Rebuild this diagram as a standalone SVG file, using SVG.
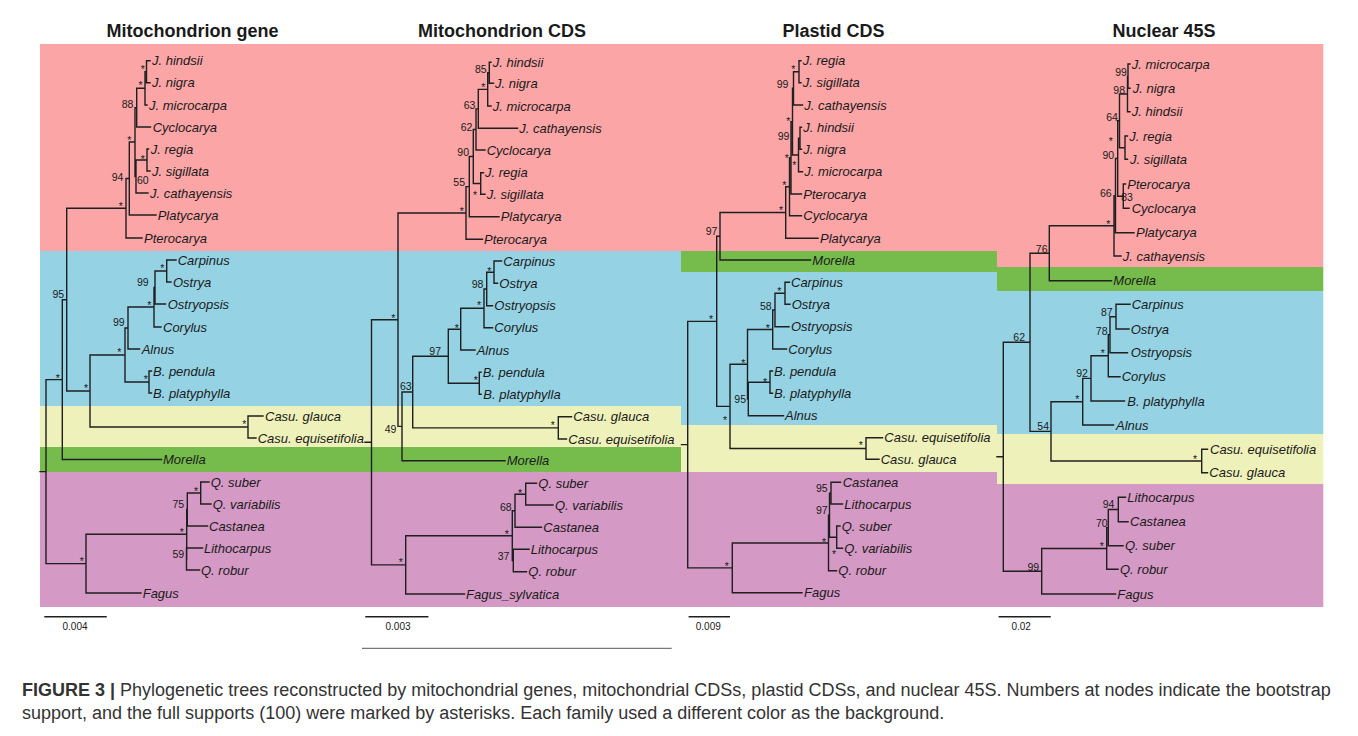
<svg xmlns="http://www.w3.org/2000/svg" width="1358" height="736" viewBox="0 0 1358 736">
<style>
text{font-family:'Liberation Sans',Arial,sans-serif;fill:#1a1a1a}
.lf{font-style:italic;font-size:13px}
.bs{font-size:10.5px;text-anchor:middle}
.ti{font-weight:bold;font-size:18px;text-anchor:middle}
.sc{font-size:10px;text-anchor:middle}
.cap{font-size:18px;fill:#333}
.br{fill:none;stroke:#1f1f1f;stroke-width:1.4;stroke-linecap:square}
.pk{fill:#fba5a6}.bl{fill:#95d3e4}.ye{fill:#eef1b9}.gr{fill:#75bc4c}.pu{fill:#d499c4}
</style>
<rect width="1358" height="736" fill="#fff"/>
<g id="backgrounds">
<rect class="pk" x="40" y="44" width="641" height="207"/>
<rect class="bl" x="40" y="251" width="641" height="155"/>
<rect class="ye" x="40" y="406" width="641" height="41"/>
<rect class="gr" x="40" y="447" width="641" height="25"/>
<rect class="pu" x="40" y="472" width="641" height="135"/>
<rect class="pk" x="681" y="44" width="316" height="207"/>
<rect class="gr" x="681" y="251" width="316" height="21"/>
<rect class="bl" x="681" y="272" width="316" height="153"/>
<rect class="ye" x="681" y="425" width="316" height="47"/>
<rect class="pu" x="681" y="472" width="316" height="135"/>
<rect class="pk" x="997" y="44" width="326.3" height="223"/>
<rect class="gr" x="997" y="267" width="326.3" height="24"/>
<rect class="bl" x="997" y="291" width="326.3" height="143"/>
<rect class="ye" x="997" y="434" width="326.3" height="50"/>
<rect class="pu" x="997" y="484" width="326.3" height="123"/>
</g>
<g id="titles">
<text class="ti" x="192.5" y="37">Mitochondrion gene</text>
<text class="ti" x="502" y="37">Mitochondrion CDS</text>
<text class="ti" x="833.5" y="37">Plastid CDS</text>
<text class="ti" x="1164" y="37">Nuclear 45S</text>
</g>
<g id="connectors">
<path id="tree1" class="br" d="M146.5 60.7V82.7M146.5 60.7H150M146.5 82.7H150M145 71.7V105M145 71.7H146.5M145 105H147M136.7 88.3V127M136.7 88.3H145M136.7 127H150.5M147 149V171M147 149H148.5M147 171H150M136 160V193M136 160H147M136 193H148M135 107.7V176.5M135 107.7H136.7M135 176.5H136M129.3 142V215M129.3 142H135M129.3 215H156M126 178.5V238M126 178.5H129.3M126 238H142M166.7 260V282M166.7 260H176M166.7 282H171M155 271V304M155 271H166.7M155 304H165.5M154 287.5V327M154 287.5H155M154 327H161M128 307V349M128 307H154M128 349H139.5M149 371V393M149 371H151.5M149 393H151.5M125 328V382M125 328H128M125 382H149M248 416V438M248 416H263M248 438H256M90 355V427M90 355H125M90 427H248M66.7 208.3V391M66.7 208.3H126M66.7 391H90M62.3 299.7V459.5M62.3 299.7H66.7M62.3 459.5H161.5M200.7 482V504M200.7 482H209M200.7 504H211M187.3 493V526M187.3 493H200.7M187.3 526H207.5M186.5 548V570M186.5 548H202.5M186.5 570H199.5M186.7 509.5V559M186.7 509.5H187.3M86 534.3V593M86 534.3H186.7M86 593H141M46 379.6V563.6M46 379.6H62.3M46 563.6H86M40 471.6H46"/>
<path id="tree2" class="br" d="M489.3 62.3V83.3M489.3 62.3H491M489.3 83.3H493.5M487.7 72.8V106M487.7 72.8H489.3M487.7 106H491M478.3 89.4V128.3M478.3 89.4H487.7M478.3 128.3H517.5M476 108.9V150M476 108.9H478.3M476 150H485M480.7 172.7V194.3M480.7 172.7H483.5M480.7 194.3H485M473.3 129.5V183.5M473.3 129.5H476M473.3 183.5H480.7M469.3 156.5V216.7M469.3 156.5H473.3M469.3 216.7H499M466 186.6V239.3M466 186.6H469.3M466 239.3H482.5M494 261V283.3M494 261H501.5M494 283.3H497.5M486.7 272.2V305.7M486.7 272.2H494M486.7 305.7H492.5M484 289V327.7M484 289H486.7M484 327.7H492.5M460.7 308.3V350M460.7 308.3H484M460.7 350H475M479.3 372.3V394.3M479.3 372.3H481M479.3 394.3H481M448.3 329.2V383.3M448.3 329.2H460.7M448.3 383.3H479.3M558.3 416.7V439M558.3 416.7H571.5M558.3 439H566.5M412.7 356.2V427.9M412.7 356.2H448.3M412.7 427.9H558.3M402 392V460.7M402 392H412.7M402 460.7H505M398 213V426.4M398 213H466M398 426.4H402M525.7 483.3V505M525.7 483.3H536.5M525.7 505H553M515 494.2V527.3M515 494.2H525.7M515 527.3H541.5M513.3 549.3V571.7M513.3 549.3H529M513.3 571.7H526.5M512.3 510.8V560.5M512.3 510.8H515M405.7 535.7V594M405.7 535.7H512.3M405.7 594H464.5M371.5 319.7V564.9M371.5 319.7H398M371.5 564.9H405.7M365 442.3H371.5"/>
<path id="tree3" class="br" d="M799 60.7V82.7M799 60.7H801M799 82.7H801M793.5 71.7V105M793.5 71.7H799M793.5 105H802.5M800 127.3V149.3M800 127.3H801.5M800 149.3H801.5M798.5 138.3V171.7M798.5 138.3H800M798.5 171.7H802.5M792.5 88.3V155M792.5 88.3H793.5M792.5 155H798.5M791 121.7V194M791 121.7H792.5M791 194H801.5M789.5 157.8V215.7M789.5 157.8H791M789.5 215.7H801.5M785.7 186.8V238.3M785.7 186.8H789.5M785.7 238.3H818M720 212.5V260M720 212.5H785.7M720 260H810.5M785 282.3V304.3M785 282.3H789.5M785 304.3H790M775 293.3V326.7M775 293.3H785M775 326.7H789M772.7 310V349M772.7 310H775M772.7 349H786.5M770 371V393.3M770 371H772.5M770 393.3H772.5M748.3 382.2V415.7M748.3 382.2H770M748.3 415.7H783.5M747.5 329.5V399M747.5 329.5H772.7M747.5 399H748.3M866 437.7V459.3M866 437.7H882.5M866 459.3H879M730 364.3V448.5M730 364.3H747.5M730 448.5H866M716.7 236.3V406.4M716.7 236.3H720M716.7 406.4H730M831 482.3V504M831 482.3H840.5M831 504H842.5M836.7 526V548.3M836.7 526H840M836.7 548.3H842.5M829.5 493.2V537.2M829.5 493.2H831M829.5 537.2H836.7M828.5 515.2V570.7M828.5 515.2H829.5M828.5 570.7H836.5M732.3 543V592.7M732.3 543H828.5M732.3 592.7H802M687.7 321.4V567.9M687.7 321.4H716.7M687.7 567.9H732.3M681.5 444.6H687.7"/>
<path id="tree4" class="br" d="M1128 64V88.3M1128 64H1130M1128 88.3H1130M1127.5 76.2V111.7M1127.5 76.2H1128M1127.5 111.7H1130M1125 136V159.3M1125 136H1127.5M1125 159.3H1127.5M1119.5 94V147.7M1119.5 94H1127.5M1119.5 147.7H1125M1123.3 184V208.3M1123.3 184H1125.5M1123.3 208.3H1129M1117.7 120.8V196.2M1117.7 120.8H1119.5M1117.7 196.2H1123.3M1115.5 158.5V232.7M1115.5 158.5H1117.7M1115.5 232.7H1134M1114 195.6V256M1114 195.6H1115.5M1114 256H1121M1049.3 225.8V280.7M1049.3 225.8H1114M1049.3 280.7H1111.5M1116 304.3V329M1116 304.3H1130M1116 329H1129M1110 316.7V352.7M1110 316.7H1116M1110 352.7H1127.5M1108.3 334.7V376.7M1108.3 334.7H1110M1108.3 376.7H1120M1091 355.7V401M1091 355.7H1108.3M1091 401H1124.5M1082.7 378.4V425M1082.7 378.4H1091M1082.7 425H1113.5M1201.7 449.3V472.7M1201.7 449.3H1207.5M1201.7 472.7H1207.5M1051 401.7V461M1051 401.7H1082.7M1051 461H1201.7M1030 253.2V431.4M1030 253.2H1049.3M1030 431.4H1051M1118.3 497.3V521.7M1118.3 497.3H1125.5M1118.3 521.7H1128M1108.3 509.5V545.7M1108.3 509.5H1118.3M1108.3 545.7H1123M1106.7 527.6V569.3M1106.7 527.6H1108.3M1106.7 569.3H1118M1041.7 548.5V594M1041.7 548.5H1106.7M1041.7 594H1115.5M1003.3 342.3V571.3M1003.3 342.3H1030M1003.3 571.3H1041.7M997 456.8H1003.3"/>
<path id="scalebars" class="br" d="M45 616.7H106M366 616.7H427.7M689.3 616.7H729.3M999.3 616.7H1050"/>
<path id="rule" d="M362 648.3H671.7" stroke="#555" stroke-width="1" fill="none"/>
</g>
<g id="panel1">
<g id="p1-leaves">
<text class="lf" x="152" y="65.2">J. hindsii</text>
<text class="lf" x="152" y="87.2">J. nigra</text>
<text class="lf" x="149" y="109.5">J. microcarpa</text>
<text class="lf" x="152.7" y="131.5">Cyclocarya</text>
<text class="lf" x="150.7" y="153.5">J. regia</text>
<text class="lf" x="152" y="175.5">J. sigillata</text>
<text class="lf" x="150" y="197.5">J. cathayensis</text>
<text class="lf" x="157.7" y="219.5">Platycarya</text>
<text class="lf" x="144" y="242.5">Pterocarya</text>
<text class="lf" x="177.7" y="264.5">Carpinus</text>
<text class="lf" x="173" y="286.5">Ostrya</text>
<text class="lf" x="167.7" y="308.5">Ostryopsis</text>
<text class="lf" x="163" y="331.5">Corylus</text>
<text class="lf" x="141.7" y="353.5">Alnus</text>
<text class="lf" x="153" y="375.5">B. pendula</text>
<text class="lf" x="153" y="397.5">B. platyphylla</text>
<text class="lf" x="265" y="420.5">Casu. glauca</text>
<text class="lf" x="257.7" y="442.5">Casu. equisetifolia</text>
<text class="lf" x="163" y="464">Morella</text>
<text class="lf" x="210.7" y="486.5">Q. suber</text>
<text class="lf" x="212.7" y="508.5">Q. variabilis</text>
<text class="lf" x="209" y="530.5">Castanea</text>
<text class="lf" x="204" y="552.5">Lithocarpus</text>
<text class="lf" x="201" y="574.5">Q. robur</text>
<text class="lf" x="142.7" y="597.5">Fagus</text>
</g>
<g id="p1-support">
<text class="bs" x="142.7" y="72.5">*</text>
<text class="bs" x="140.5" y="89.3">*</text>
<text class="bs" x="142.7" y="162.7">*</text>
<text class="bs" x="129.3" y="143.5">*</text>
<text class="bs" x="120.7" y="210.3">*</text>
<text class="bs" x="162.3" y="272">*</text>
<text class="bs" x="149.3" y="308.7">*</text>
<text class="bs" x="119.3" y="356">*</text>
<text class="bs" x="145.7" y="383.3">*</text>
<text class="bs" x="86" y="392">*</text>
<text class="bs" x="244.3" y="428.3">*</text>
<text class="bs" x="57.7" y="381.7">*</text>
<text class="bs" x="196" y="495">*</text>
<text class="bs" x="181.7" y="536">*</text>
<text class="bs" x="81.7" y="565">*</text>
<text class="bs" x="127.5" y="108">88</text>
<text class="bs" x="142.8" y="184">60</text>
<text class="bs" x="117.5" y="180.7">94</text>
<text class="bs" x="58.3" y="297.7">95</text>
<text class="bs" x="142.8" y="286">99</text>
<text class="bs" x="118.8" y="326.3">99</text>
<text class="bs" x="178.3" y="507.7">75</text>
<text class="bs" x="178.3" y="557.7">59</text>
</g>
<text class="sc" x="75" y="630">0.004</text>
</g>
<g id="panel2">
<g id="p2-leaves">
<text class="lf" x="492.7" y="66.8">J. hindsii</text>
<text class="lf" x="495" y="87.8">J. nigra</text>
<text class="lf" x="492.7" y="110.5">J. microcarpa</text>
<text class="lf" x="519.3" y="132.8">J. cathayensis</text>
<text class="lf" x="486.7" y="154.5">Cyclocarya</text>
<text class="lf" x="485" y="177.2">J. regia</text>
<text class="lf" x="486.7" y="198.8">J. sigillata</text>
<text class="lf" x="500.7" y="221.2">Platycarya</text>
<text class="lf" x="484" y="243.8">Pterocarya</text>
<text class="lf" x="503.3" y="265.5">Carpinus</text>
<text class="lf" x="499.3" y="287.8">Ostrya</text>
<text class="lf" x="494.3" y="310.2">Ostryopsis</text>
<text class="lf" x="494.3" y="332.2">Corylus</text>
<text class="lf" x="476.7" y="354.5">Alnus</text>
<text class="lf" x="482.7" y="376.8">B. pendula</text>
<text class="lf" x="483.3" y="398.8">B. platyphylla</text>
<text class="lf" x="573.3" y="421.2">Casu. glauca</text>
<text class="lf" x="568.3" y="443.5">Casu. equisetifolia</text>
<text class="lf" x="506.7" y="465.2">Morella</text>
<text class="lf" x="538.3" y="487.8">Q. suber</text>
<text class="lf" x="555" y="509.5">Q. variabilis</text>
<text class="lf" x="543.3" y="531.8">Castanea</text>
<text class="lf" x="530.7" y="553.8">Lithocarpus</text>
<text class="lf" x="528.3" y="576.2">Q. robur</text>
<text class="lf" x="466" y="598.5">Fagus_sylvatica</text>
</g>
<g id="p2-support">
<text class="bs" x="480.8" y="72.7">85</text>
<text class="bs" x="469.5" y="108.5">63</text>
<text class="bs" x="466.5" y="130.7">62</text>
<text class="bs" x="463.2" y="156.3">90</text>
<text class="bs" x="459.2" y="186.3">55</text>
<text class="bs" x="477.5" y="288.2">98</text>
<text class="bs" x="435.2" y="355.2">97</text>
<text class="bs" x="405.8" y="390.2">63</text>
<text class="bs" x="390.5" y="433">49</text>
<text class="bs" x="505.8" y="510.7">68</text>
<text class="bs" x="503.5" y="560.2">37</text>
<text class="bs" x="483.3" y="91">*</text>
<text class="bs" x="475" y="198.7">*</text>
<text class="bs" x="461.7" y="215">*</text>
<text class="bs" x="489.3" y="275.3">*</text>
<text class="bs" x="479" y="309.3">*</text>
<text class="bs" x="456.7" y="332">*</text>
<text class="bs" x="475.7" y="383.7">*</text>
<text class="bs" x="552.7" y="428.7">*</text>
<text class="bs" x="393.3" y="322">*</text>
<text class="bs" x="520" y="496.7">*</text>
<text class="bs" x="506.7" y="537.7">*</text>
<text class="bs" x="400.7" y="566">*</text>
</g>
<text class="sc" x="398" y="630">0.003</text>
</g>
<g id="panel3">
<g id="p3-leaves">
<text class="lf" x="802.7" y="65.2">J. regia</text>
<text class="lf" x="802.7" y="87.2">J. sigillata</text>
<text class="lf" x="804.3" y="109.5">J. cathayensis</text>
<text class="lf" x="803.3" y="131.8">J. hindsii</text>
<text class="lf" x="803.3" y="153.8">J. nigra</text>
<text class="lf" x="804.3" y="176.2">J. microcarpa</text>
<text class="lf" x="803.3" y="198.5">Pterocarya</text>
<text class="lf" x="803.3" y="220.2">Cyclocarya</text>
<text class="lf" x="820" y="242.8">Platycarya</text>
<text class="lf" x="812.3" y="264.5">Morella</text>
<text class="lf" x="791" y="286.8">Carpinus</text>
<text class="lf" x="791.7" y="308.8">Ostrya</text>
<text class="lf" x="791" y="331.2">Ostryopsis</text>
<text class="lf" x="788.3" y="353.5">Corylus</text>
<text class="lf" x="774" y="375.5">B. pendula</text>
<text class="lf" x="774" y="397.8">B. platyphylla</text>
<text class="lf" x="785" y="420.2">Alnus</text>
<text class="lf" x="884.3" y="442.2">Casu. equisetifolia</text>
<text class="lf" x="880.7" y="463.8">Casu. glauca</text>
<text class="lf" x="842.7" y="486.8">Castanea</text>
<text class="lf" x="844.3" y="508.5">Lithocarpus</text>
<text class="lf" x="841.7" y="530.5">Q. suber</text>
<text class="lf" x="844.3" y="552.8">Q. variabilis</text>
<text class="lf" x="838.3" y="575.2">Q. robur</text>
<text class="lf" x="804" y="597.2">Fagus</text>
</g>
<g id="p3-support">
<text class="bs" x="782.5" y="88">99</text>
<text class="bs" x="783.5" y="139.8">99</text>
<text class="bs" x="711.5" y="235.2">97</text>
<text class="bs" x="765.8" y="310.2">58</text>
<text class="bs" x="740.2" y="402.7">95</text>
<text class="bs" x="821.8" y="491.8">95</text>
<text class="bs" x="821.8" y="514">97</text>
<text class="bs" x="793.3" y="72.7">*</text>
<text class="bs" x="788.3" y="125">*</text>
<text class="bs" x="794.3" y="169.3">*</text>
<text class="bs" x="786.7" y="161.7">*</text>
<text class="bs" x="784.3" y="188.7">*</text>
<text class="bs" x="781" y="214.3">*</text>
<text class="bs" x="779.3" y="295.3">*</text>
<text class="bs" x="767.7" y="331.7">*</text>
<text class="bs" x="765" y="386">*</text>
<text class="bs" x="743.3" y="366.7">*</text>
<text class="bs" x="725" y="423.7">*</text>
<text class="bs" x="860.7" y="449.3">*</text>
<text class="bs" x="711" y="323.3">*</text>
<text class="bs" x="824" y="546">*</text>
<text class="bs" x="834" y="557.7">*</text>
<text class="bs" x="726.7" y="570">*</text>
</g>
<text class="sc" x="708.3" y="630">0.009</text>
</g>
<g id="panel4">
<g id="p4-leaves">
<text class="lf" x="1131.7" y="68.5">J. microcarpa</text>
<text class="lf" x="1132.7" y="92.8">J. nigra</text>
<text class="lf" x="1131.7" y="116.2">J. hindsii</text>
<text class="lf" x="1129.3" y="140.5">J. regia</text>
<text class="lf" x="1130" y="163.8">J. sigillata</text>
<text class="lf" x="1127.3" y="188.5">Pterocarya</text>
<text class="lf" x="1131.7" y="212.8">Cyclocarya</text>
<text class="lf" x="1136" y="237.2">Platycarya</text>
<text class="lf" x="1122.7" y="260.5">J. cathayensis</text>
<text class="lf" x="1113.3" y="285.2">Morella</text>
<text class="lf" x="1131.7" y="308.8">Carpinus</text>
<text class="lf" x="1130.7" y="333.5">Ostrya</text>
<text class="lf" x="1130.7" y="357.2">Ostryopsis</text>
<text class="lf" x="1121.7" y="381.2">Corylus</text>
<text class="lf" x="1127.3" y="405.5">B. platyphylla</text>
<text class="lf" x="1116" y="429.5">Alnus</text>
<text class="lf" x="1210" y="453.8">Casu. equisetifolia</text>
<text class="lf" x="1209.3" y="477.2">Casu. glauca</text>
<text class="lf" x="1127.3" y="501.8">Lithocarpus</text>
<text class="lf" x="1130" y="526.2">Castanea</text>
<text class="lf" x="1125" y="550.2">Q. suber</text>
<text class="lf" x="1120" y="573.8">Q. robur</text>
<text class="lf" x="1117.3" y="598.5">Fagus</text>
</g>
<g id="p4-support">
<text class="bs" x="1121" y="76">99</text>
<text class="bs" x="1119.2" y="93.8">98</text>
<text class="bs" x="1112" y="121">64</text>
<text class="bs" x="1108.3" y="158.5">90</text>
<text class="bs" x="1105.8" y="196.5">66</text>
<text class="bs" x="1127" y="200.5">83</text>
<text class="bs" x="1041.7" y="252.5">76</text>
<text class="bs" x="1106.8" y="316.3">87</text>
<text class="bs" x="1101.7" y="334.8">78</text>
<text class="bs" x="1082" y="377.3">92</text>
<text class="bs" x="1043.2" y="430.3">54</text>
<text class="bs" x="1019.2" y="341">62</text>
<text class="bs" x="1108.5" y="508">94</text>
<text class="bs" x="1101.8" y="527">70</text>
<text class="bs" x="1033.3" y="570.5">99</text>
<text class="bs" x="1110.7" y="145">*</text>
<text class="bs" x="1108.3" y="227.7">*</text>
<text class="bs" x="1102.7" y="356.7">*</text>
<text class="bs" x="1077.3" y="402.7">*</text>
<text class="bs" x="1195" y="463.3">*</text>
<text class="bs" x="1101.7" y="550">*</text>
</g>
<text class="sc" x="1021.2" y="629.5">0.02</text>
</g>
<g id="caption">
<text class="cap" x="22" y="696"><tspan font-weight="bold">FIGURE 3 |</tspan> Phylogenetic trees reconstructed by mitochondrial genes, mitochondrial CDSs, plastid CDSs, and nuclear 45S. Numbers at nodes indicate the bootstrap</text>
<text class="cap" x="22" y="719">support, and the full supports (100) were marked by asterisks. Each family used a different color as the background.</text>
</g>
</svg>
